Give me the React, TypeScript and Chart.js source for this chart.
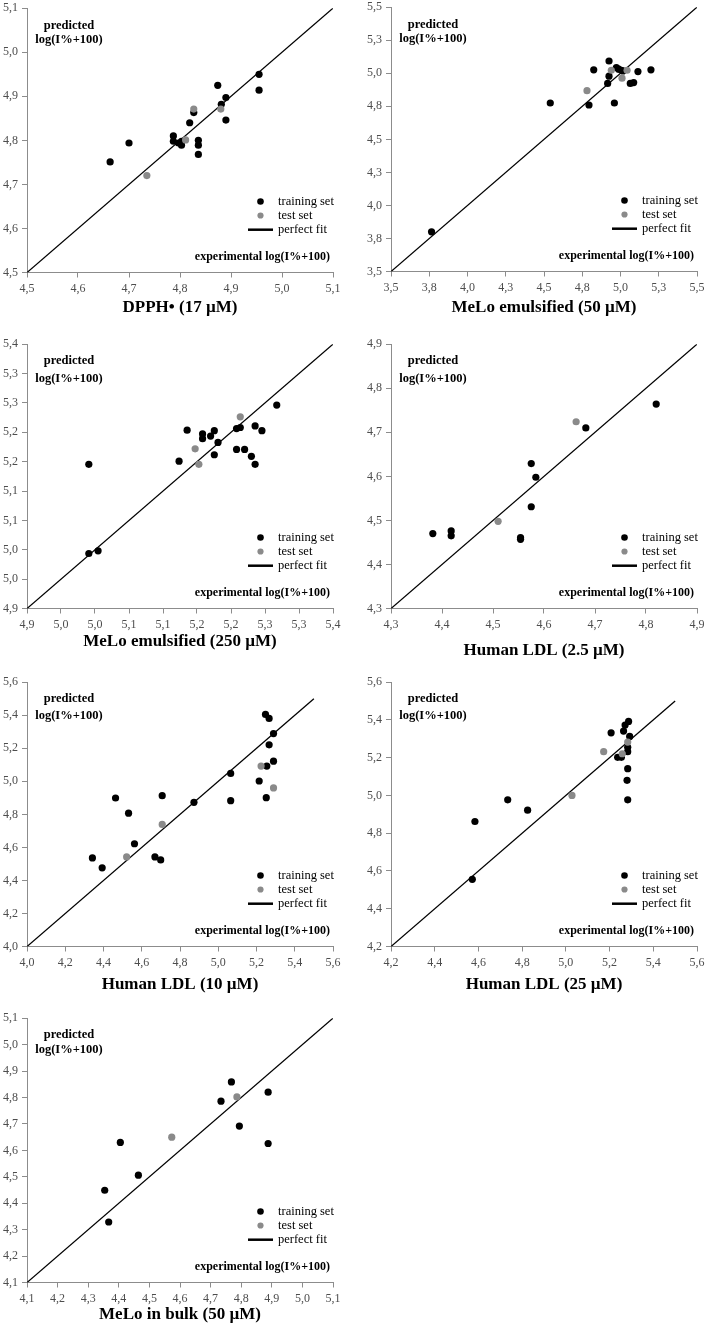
import React, { useEffect, useRef } from "react";
import { Chart, registerables } from "chart.js";

Chart.register(...registerables);

// ---------- shared texts ----------
const Y_NOTE_1 = "predicted";
const Y_NOTE_2 = "log(I%+100)";
const X_NOTE = "experimental log(I%+100)";
const TRAIN_LABEL = "training set";
const TEST_LABEL = "test set";
const FIT_LABEL = "perfect fit";

// ---------- Panel 1: DPPH ----------
const P1_TITLE = "DPPH• (17 µM)";
const P1_TICKS = [4.5, 4.6, 4.7, 4.8, 4.9, 5.0, 5.1];
const P1_TICK_LABELS = ["4,5", "4,6", "4,7", "4,8", "4,9", "5,0", "5,1"];
const P1_TRAIN_X = [4.663, 4.7, 4.787, 4.787, 4.797, 4.803, 4.803, 4.819, 4.827, 4.836, 4.836, 4.836, 4.874, 4.881, 4.89, 4.89, 4.955, 4.955];
const P1_TRAIN_Y = [4.751, 4.794, 4.81, 4.798, 4.794, 4.798, 4.789, 4.84, 4.863, 4.8, 4.789, 4.768, 4.925, 4.882, 4.897, 4.846, 4.95, 4.914];
const P1_TEST_X = [4.735, 4.811, 4.827, 4.88];
const P1_TEST_Y = [4.72, 4.801, 4.871, 4.871];
const P1_FIT = [4.5, 5.1];

// ---------- Panel 2: MeLo emulsified 50 ----------
const P2_TITLE = "MeLo emulsified (50 µM)";
const P2_TICKS = [3.5, 3.75, 4.0, 4.25, 4.5, 4.75, 5.0, 5.25, 5.5];
const P2_TICK_LABELS = ["3,5", "3,8", "4,0", "4,3", "4,5", "4,8", "5,0", "5,3", "5,5"];
const P2_TRAIN_X = [3.765, 4.541, 4.794, 4.825, 4.916, 4.925, 4.925, 4.96, 4.973, 4.988, 5.005, 5.016, 5.064, 5.086, 5.114, 5.199];
const P2_TRAIN_Y = [3.8, 4.775, 4.76, 5.026, 4.923, 4.978, 5.093, 4.775, 5.043, 5.031, 5.023, 5.018, 4.923, 4.93, 5.013, 5.026];
const P2_TEST_X = [4.781, 4.94, 5.01, 5.043];
const P2_TEST_Y = [4.868, 5.023, 4.963, 5.023];
const P2_FIT = [3.5, 5.5];

// ---------- Panel 3: MeLo emulsified 250 ----------
const P3_TITLE = "MeLo emulsified (250 µM)";
const P3_TICKS = [4.9, 4.955, 5.01, 5.065, 5.12, 5.175, 5.23, 5.285, 5.34, 5.395];
const P3_TICK_LABELS = ["4,9", "5,0", "5,0", "5,1", "5,1", "5,2", "5,2", "5,3", "5,3", "5,4"];
const P3_TRAIN_X = [5.0, 5.0, 5.015, 5.146, 5.159, 5.184, 5.184, 5.197, 5.203, 5.203, 5.209, 5.239, 5.239, 5.245, 5.252, 5.263, 5.269, 5.269, 5.28, 5.304];
const P3_TRAIN_Y = [5.17, 5.003, 5.008, 5.176, 5.234, 5.227, 5.218, 5.223, 5.233, 5.188, 5.211, 5.198, 5.237, 5.239, 5.198, 5.185, 5.242, 5.17, 5.233, 5.281];
const P3_TEST_X = [5.172, 5.178, 5.245];
const P3_TEST_Y = [5.199, 5.17, 5.259];
const P3_FIT = [4.9, 5.395];

// ---------- Panel 4: Human LDL 2.5 ----------
const P4_TITLE = "Human LDL (2.5 µM)";
const P4_TICKS = [4.3, 4.4, 4.5, 4.6, 4.7, 4.8, 4.9];
const P4_TICK_LABELS = ["4,3", "4,4", "4,5", "4,6", "4,7", "4,8", "4,9"];
const P4_TRAIN_X = [4.382, 4.418, 4.418, 4.554, 4.554, 4.575, 4.575, 4.584, 4.682, 4.82];
const P4_TRAIN_Y = [4.47, 4.476, 4.465, 4.461, 4.457, 4.629, 4.531, 4.598, 4.71, 4.764];
const P4_TEST_X = [4.51, 4.663];
const P4_TEST_Y = [4.498, 4.724];
const P4_FIT = [4.3, 4.9];

// ---------- Panel 5: Human LDL 10 ----------
const P5_TITLE = "Human LDL (10 µM)";
const P5_TICKS = [4.0, 4.2, 4.4, 4.6, 4.8, 5.0, 5.2, 5.4, 5.6];
const P5_TICK_LABELS = ["4,0", "4,2", "4,4", "4,6", "4,8", "5,0", "5,2", "5,4", "5,6"];
const P5_TRAIN_X = [4.342, 4.393, 4.463, 4.531, 4.562, 4.669, 4.699, 4.707, 4.873, 5.065, 5.065, 5.214, 5.247, 5.266, 5.266, 5.254, 5.251, 5.289, 5.289];
const P5_TRAIN_Y = [4.536, 4.476, 4.899, 4.807, 4.622, 4.542, 4.524, 4.913, 4.873, 5.048, 4.883, 5.002, 5.405, 5.381, 5.221, 5.092, 4.901, 5.289, 5.122];
const P5_TEST_X = [4.521, 4.707, 5.224, 5.289];
const P5_TEST_Y = [4.542, 4.739, 5.092, 4.96];
const P5_FIT = [4.0, 5.5];

// ---------- Panel 6: Human LDL 25 ----------
const P6_TITLE = "Human LDL (25 µM)";
const P6_TICKS = [4.2, 4.4, 4.6, 4.8, 5.0, 5.2, 5.4, 5.6];
const P6_TICK_LABELS = ["4,2", "4,4", "4,6", "4,8", "5,0", "5,2", "5,4", "5,6"];
const P6_TRAIN_X = [4.572, 4.584, 4.734, 4.825, 5.207, 5.237, 5.254, 5.264, 5.271, 5.287, 5.292, 5.283, 5.283, 5.283, 5.28, 5.283];
const P6_TRAIN_Y = [4.556, 4.862, 4.977, 4.922, 5.332, 5.202, 5.202, 5.341, 5.373, 5.392, 5.313, 5.255, 5.232, 5.142, 5.08, 4.977];
const P6_TEST_X = [5.173, 5.028, 5.258, 5.283];
const P6_TEST_Y = [5.232, 5.0, 5.221, 5.283];
const P6_FIT = [4.2, 5.5];

// ---------- Panel 7: MeLo in bulk ----------
const P7_TITLE = "MeLo in bulk (50 µM)";
const P7_TICKS = [4.1, 4.2, 4.3, 4.4, 4.5, 4.6, 4.7, 4.8, 4.9, 5.0, 5.1];
const P7_TICK_LABELS = ["4,1", "4,2", "4,3", "4,4", "4,5", "4,6", "4,7", "4,8", "4,9", "5,0", "5,1"];
const P7_TRAIN_X = [4.354, 4.367, 4.405, 4.464, 4.734, 4.768, 4.794, 4.888, 4.888];
const P7_TRAIN_Y = [4.449, 4.329, 4.63, 4.506, 4.786, 4.859, 4.692, 4.82, 4.626];
const P7_TEST_X = [4.573, 4.786];
const P7_TEST_Y = [4.65, 4.802];
const P7_FIT = [4.1, 5.1];

type PanelData = {
  title: string;
  ticks: number[];
  tickLabels: string[];
  trainX: number[];
  trainY: number[];
  testX: number[];
  testY: number[];
  fit: number[];
};

const PANELS: PanelData[] = [
  { title: P1_TITLE, ticks: P1_TICKS, tickLabels: P1_TICK_LABELS, trainX: P1_TRAIN_X, trainY: P1_TRAIN_Y, testX: P1_TEST_X, testY: P1_TEST_Y, fit: P1_FIT },
  { title: P2_TITLE, ticks: P2_TICKS, tickLabels: P2_TICK_LABELS, trainX: P2_TRAIN_X, trainY: P2_TRAIN_Y, testX: P2_TEST_X, testY: P2_TEST_Y, fit: P2_FIT },
  { title: P3_TITLE, ticks: P3_TICKS, tickLabels: P3_TICK_LABELS, trainX: P3_TRAIN_X, trainY: P3_TRAIN_Y, testX: P3_TEST_X, testY: P3_TEST_Y, fit: P3_FIT },
  { title: P4_TITLE, ticks: P4_TICKS, tickLabels: P4_TICK_LABELS, trainX: P4_TRAIN_X, trainY: P4_TRAIN_Y, testX: P4_TEST_X, testY: P4_TEST_Y, fit: P4_FIT },
  { title: P5_TITLE, ticks: P5_TICKS, tickLabels: P5_TICK_LABELS, trainX: P5_TRAIN_X, trainY: P5_TRAIN_Y, testX: P5_TEST_X, testY: P5_TEST_Y, fit: P5_FIT },
  { title: P6_TITLE, ticks: P6_TICKS, tickLabels: P6_TICK_LABELS, trainX: P6_TRAIN_X, trainY: P6_TRAIN_Y, testX: P6_TEST_X, testY: P6_TEST_Y, fit: P6_FIT },
  { title: P7_TITLE, ticks: P7_TICKS, tickLabels: P7_TICK_LABELS, trainX: P7_TRAIN_X, trainY: P7_TRAIN_Y, testX: P7_TEST_X, testY: P7_TEST_Y, fit: P7_FIT },
];

// ---------- layout (positions / styles) ----------
type Box = { left: number; top: number; titleGap: number; g1: number; g2: number };
const BOXES: Box[] = [
  { left: 27, top: 7, titleGap: 35, g1: 18, g2: 32 },
  { left: 391, top: 6, titleGap: 36, g1: 18, g2: 32 },
  { left: 27, top: 343, titleGap: 33.5, g1: 16.7, g2: 34.2 },
  { left: 391, top: 343, titleGap: 42, g1: 16.7, g2: 34.2 },
  { left: 27, top: 681, titleGap: 38, g1: 16.7, g2: 34 },
  { left: 391, top: 681, titleGap: 38, g1: 16.7, g2: 34 },
  { left: 27, top: 1017, titleGap: 32, g1: 17, g2: 32 },
];
const PLOT_W = 306;
const PLOT_H = 265.5;
const PAD_L = 30;
const PAD_T = 10;
const PAD_R = 16;
const TITLE_SIZE = 17;
const FONT = '"Liberation Serif", "Times New Roman", serif';
const AXIS_COLOR = "#8c8c8c";
const TICK_COLOR = "#4d4d4d";
const TRAIN_COLOR = "#000000";
const TEST_COLOR = "#8a8a8a";
const POINT_R = 3.6;

const decorPlugin = {
  id: "panelDecor",
  afterDraw(chart: any, _args: any, opts: any) {
    const { ctx, chartArea: a } = chart;
    ctx.save();
    ctx.fillStyle = "#000";
    ctx.textBaseline = "middle";
    // y-axis note (top-left)
    ctx.font = `bold 12.5px ${FONT}`;
    ctx.textAlign = "center";
    ctx.fillText(Y_NOTE_1, a.left + 42, a.top + opts.g1);
    ctx.fillText(Y_NOTE_2, a.left + 42, a.top + opts.g2);
    // x-axis note (bottom-right)
    ctx.font = `bold 12px ${FONT}`;
    ctx.textAlign = "right";
    ctx.fillText(X_NOTE, a.right - 3, a.bottom - 15.5);
    // legend
    const dotX = a.right - 72.5;
    const textX = a.right - 55;
    const rows = [a.bottom - 71, a.bottom - 57, a.bottom - 42.8];
    ctx.fillStyle = TRAIN_COLOR;
    ctx.beginPath();
    ctx.arc(dotX, rows[0], 3.3, 0, Math.PI * 2);
    ctx.fill();
    ctx.fillStyle = TEST_COLOR;
    ctx.beginPath();
    ctx.arc(dotX, rows[1], 3.1, 0, Math.PI * 2);
    ctx.fill();
    ctx.strokeStyle = "#000";
    ctx.lineWidth = 2.5;
    ctx.beginPath();
    ctx.moveTo(a.right - 85, rows[2]);
    ctx.lineTo(a.right - 60, rows[2]);
    ctx.stroke();
    ctx.fillStyle = "#000";
    ctx.font = `12.5px ${FONT}`;
    ctx.textAlign = "left";
    ctx.fillText(TRAIN_LABEL, textX, rows[0]);
    ctx.fillText(TEST_LABEL, textX, rows[1]);
    ctx.fillText(FIT_LABEL, textX, rows[2]);
    ctx.restore();
  },
};

function Panel({ data, box }: { data: PanelData; box: Box }) {
  const ref = useRef<HTMLCanvasElement>(null);
  const xAxisH = box.titleGap + (TITLE_SIZE * 1.2) / 2;
  const W = PAD_L + PLOT_W + PAD_R;
  const H = Math.round(PAD_T + PLOT_H + xAxisH);
  const realXAxisH = H - PAD_T - PLOT_H;

  useEffect(() => {
    const cv = ref.current;
    if (!cv) return;
    const min = data.ticks[0];
    const max = data.ticks[data.ticks.length - 1];
    const pts = (xs: number[], ys: number[]) => xs.map((x, i) => ({ x, y: ys[i] }));
    const tickCfg = {
      autoSkip: false,
      maxRotation: 0,
      minRotation: 0,
      padding: 4,
      color: TICK_COLOR,
      font: { family: FONT, size: 12 },
      callback: (_v: any, i: number) => data.tickLabels[i],
    };
    const gridCfg = {
      drawOnChartArea: false,
      drawTicks: true,
      tickLength: 5,
      color: AXIS_COLOR,
      lineWidth: 1,
    };
    const setTicks = (s: any) => {
      s.ticks = data.ticks.map((v) => ({ value: v }));
    };
    const chart = new Chart(cv, {
      type: "scatter",
      data: {
        datasets: [
          {
            label: TEST_LABEL,
            data: pts(data.testX, data.testY),
            backgroundColor: TEST_COLOR,
            borderWidth: 0,
            pointRadius: POINT_R,
            pointHoverRadius: POINT_R,
          },
          {
            label: TRAIN_LABEL,
            data: pts(data.trainX, data.trainY),
            backgroundColor: TRAIN_COLOR,
            borderWidth: 0,
            pointRadius: POINT_R,
            pointHoverRadius: POINT_R,
          },
          {
            label: FIT_LABEL,
            data: [
              { x: data.fit[0], y: data.fit[0] },
              { x: data.fit[1], y: data.fit[1] },
            ],
            showLine: true,
            borderColor: "#000",
            borderWidth: 1.3,
            pointRadius: 0,
            pointHoverRadius: 0,
          },
        ],
      } as any,
      options: {
        animation: false,
        responsive: false,
        maintainAspectRatio: false,
        devicePixelRatio: 1,
        events: [],
        layout: { padding: { left: 0, top: PAD_T, right: PAD_R, bottom: 0 } },
        plugins: {
          legend: { display: false },
          tooltip: { enabled: false },
          panelDecor: { g1: box.g1, g2: box.g2 },
        } as any,
        scales: {
          x: {
            type: "linear",
            position: "bottom",
            min,
            max,
            afterBuildTicks: setTicks,
            afterFit: (s: any) => {
              s.height = realXAxisH;
            },
            ticks: tickCfg,
            grid: gridCfg,
            border: { display: true, color: AXIS_COLOR, width: 1 },
            title: {
              display: true,
              text: data.title,
              color: "#000",
              font: { family: FONT, size: TITLE_SIZE, weight: "bold" },
              padding: 0,
            },
          },
          y: {
            type: "linear",
            position: "left",
            min,
            max,
            afterBuildTicks: setTicks,
            afterFit: (s: any) => {
              s.width = PAD_L;
            },
            ticks: tickCfg,
            grid: gridCfg,
            border: { display: true, color: AXIS_COLOR, width: 1 },
          },
        } as any,
      },
      plugins: [decorPlugin as any],
    });
    return () => chart.destroy();
  }, []);

  return (
    <canvas
      ref={ref}
      width={W}
      height={H}
      style={{
        position: "absolute",
        left: box.left - PAD_L,
        top: box.top - PAD_T,
        width: W,
        height: H,
      }}
    />
  );
}

export default function App() {
  return (
    <div
      style={{
        position: "absolute",
        left: 0,
        top: 0,
        width: 709,
        height: 1328,
        background: "#fff",
        overflow: "hidden",
      }}
    >
      {PANELS.map((p, i) => (
        <Panel key={i} data={p} box={BOXES[i]} />
      ))}
    </div>
  );
}
